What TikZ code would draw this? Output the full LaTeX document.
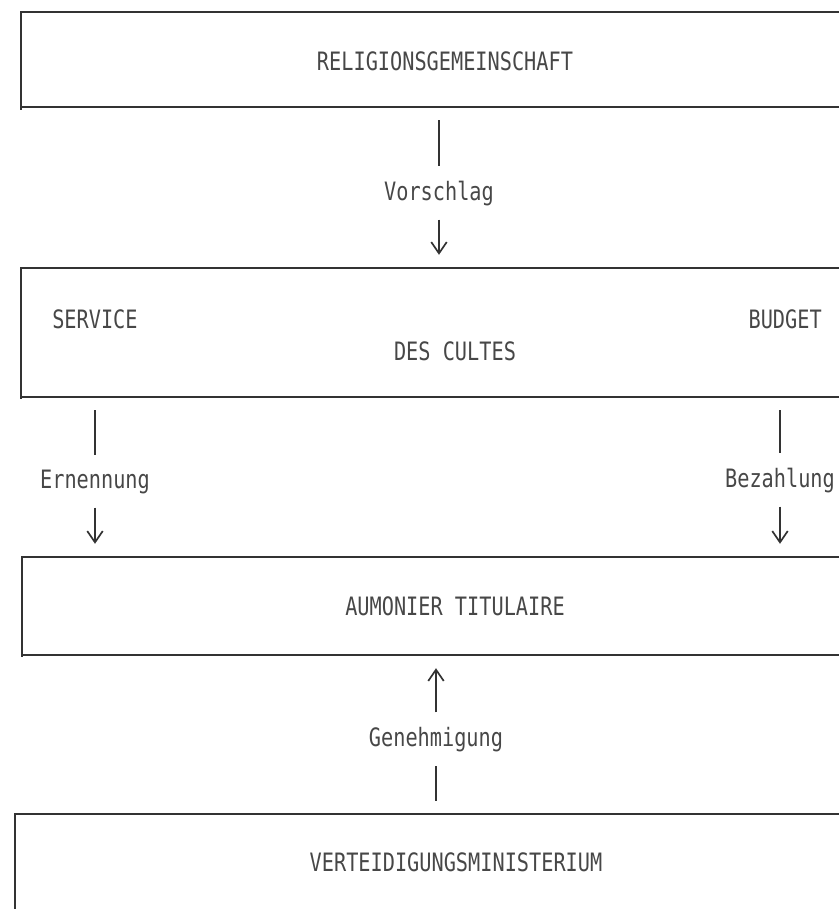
\documentclass[tikz,border=0pt]{standalone}
\usepackage{fontspec}
\newfontfamily\typefont[FakeStretch=0.8]{DejaVu Sans Mono}
\usetikzlibrary{arrows.meta,positioning}

\begin{document}
\begin{tikzpicture}[
        x=0.025cm, y=-0.025cm,
        frame/.style={draw=black!80, line width=1.4pt},
        txt/.style={font=\typefont\fontsize{18}{20}\selectfont, text=black!72, anchor=base, inner sep=0pt},
        lbl/.style={txt, inner ysep=0.35cm},
        link/.style={draw=black!80, line width=1.2pt},
        stub/.style={link, shorten <=0.33cm},
        arrow/.style={link, shorten >=0.33cm, -{Straight Barb[length=8pt, width=11pt]}}
    ]
        \useasboundingbox (0,0) rectangle (839,909);

        % Frames, open on the right
        \draw[frame] (839,12) -- (21,12) -- (21,110);
        \draw[frame] (21,107) coordinate (relS) -- (839,107);
        \draw[frame] (839,268) coordinate (desN) -- (21,268) -- (21,399);
        \draw[frame] (21,397) coordinate (desS) -- (839,397);
        \draw[frame] (839,557) coordinate (aumN) -- (22,557) -- (22,657);
        \draw[frame] (22,655) coordinate (aumS) -- (839,655);
        \draw[frame] (839,814) coordinate (verN) -- (15,814) -- (15,915);

        % Box texts
        \node[txt] (rel) at (445,70) {RELIGIONSGEMEINSCHAFT};
        \node[txt, anchor=base west] (service) at (52,328) {SERVICE};
        \node[txt, anchor=base east] (budget) at (822,328) {BUDGET};
        \node[txt] (des) at (455,360) {DES CULTES};
        \node[txt] (aum) at (455,615) {AUMONIER TITULAIRE};
        \node[txt] (ver) at (456,871) {VERTEIDIGUNGSMINISTERIUM};

        % Labels
        \node[lbl] (vor) at (439,200) {Vorschlag};
        \node[lbl] (ern) at (95,488) {Ernennung};
        \node[lbl] (bez) at (780,487) {Bezahlung};
        \node[lbl] (gen) at (436,746) {Genehmigung};

        % Arrows
        \draw[stub] (vor |- relS) -- (vor.north);
        \draw[arrow] (vor.south) -- (vor |- desN);
        \draw[stub] (ern |- desS) -- (ern.north);
        \draw[arrow] (ern.south) -- (ern |- aumN);
        \draw[stub] (bez |- desS) -- (bez.north);
        \draw[arrow] (bez.south) -- (bez |- aumN);
        \draw[stub] (gen |- verN) -- (gen.south);
        \draw[arrow] (gen.north) -- (gen |- aumS);
    \end{tikzpicture}
\end{document}
